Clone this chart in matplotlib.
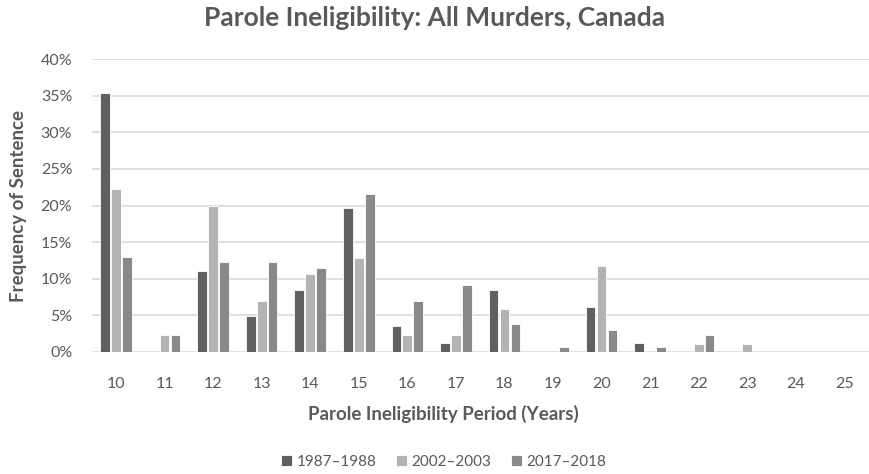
import matplotlib.pyplot as plt
import numpy as np
from matplotlib.ticker import PercentFormatter

plt.rcParams['font.family'] = ['Lato', 'DejaVu Sans']

# data
years = [10, 11, 12, 13, 14, 15, 16, 17, 18, 19, 20, 21, 22, 23, 24, 25]
s1987 = [35.4, 0, 11.0, 4.9, 8.5, 19.6, 3.6, 1.2, 8.5, 0, 6.1, 1.2, 0, 0, 0, 0]
s2002 = [22.3, 2.3, 20.0, 7.0, 10.6, 12.9, 2.3, 2.3, 5.9, 0, 11.7, 0, 1.1, 1.1, 0, 0]
s2017 = [13.0, 2.3, 12.3, 12.3, 11.5, 21.6, 6.9, 9.2, 3.8, 0.7, 3.0, 0.7, 2.3, 0, 0, 0]
labels = ['1987–1988', '2002–2003', '2017–2018']
colors = ['#606060', '#b3b3b3', '#898989']

txt = '#595959'
fig = plt.figure(figsize=(8.7, 4.74), dpi=100)
ax = fig.add_axes([0.1054, 0.2574, 0.893, 0.6181])

x = np.arange(len(years))
w = 0.2
step = 0.225
for i, (vals, lab, c) in enumerate(zip([s1987, s2002, s2017], labels, colors)):
    ax.bar(x + (i - 1) * step, np.array(vals) / 100, width=w, color=c,
           edgecolor='white', linewidth=0.6, label=lab, zorder=3)

ax.set_xlim(-0.5, len(years) - 0.5)
ax.set_ylim(0, 0.4)
ax.set_yticks(np.arange(0, 0.41, 0.05))
ax.yaxis.set_major_formatter(PercentFormatter(1.0, decimals=0))
ax.set_xticks(x)
ax.set_xticklabels([str(y) for y in years])
ax.grid(axis='y', color='#d9d9d9', linewidth=1.2, zorder=0)
for s in ax.spines.values():
    s.set_visible(False)
ax.tick_params(axis='both', length=0, labelsize=11.5, colors=txt)
ax.tick_params(axis='x', pad=18)
ax.tick_params(axis='y', pad=14)

fig.text(0.5, 0.962, 'Parole Ineligibility: All Murders, Canada', fontsize=19,
         fontweight='bold', color=txt, ha='center', va='center')
ax.set_xlabel('Parole Ineligibility Period (Years)', fontsize=13.5,
              fontweight='bold', color=txt)
ax.xaxis.set_label_coords(0.453, -0.18)
ax.set_ylabel('Frequency of Sentence', fontsize=13.5, fontweight='bold',
              color=txt, labelpad=10)

leg = fig.legend(loc='center', ncol=3, bbox_to_anchor=(0.51, 0.025),
                 frameon=False, fontsize=11, handlelength=0.7,
                 handleheight=0.7, handletextpad=0.3, columnspacing=1.3)
for t in leg.get_texts():
    t.set_color(txt)

plt.savefig('out.png', dpi=100)
